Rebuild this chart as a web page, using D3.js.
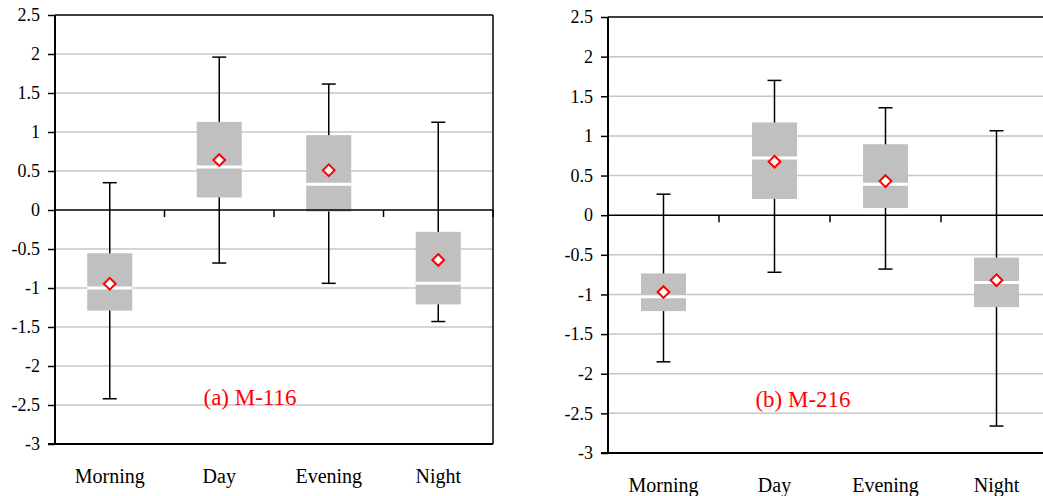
<!DOCTYPE html>
<html lang="en">
<head>
<meta charset="UTF-8">
<script src="https://d3js.org/d3.v7.min.js"></script>
<title>Box plots M-116 / M-216</title>
<style>
  body { margin: 0; background: #fff; }
  svg text { font-family: "Liberation Serif", "Times New Roman", serif; }
</style>
</head>
<body>
<div id="chart"></div>
<script>
// categories and tick values
var categories = ["Morning", "Day", "Evening", "Night"];
var yTicks = [-3, -2.5, -2, -1.5, -1, -0.5, 0, 0.5, 1, 1.5, 2, 2.5];

// (a) M-116
var aLow    = [-2.42, -0.68, -0.94, -1.43];
var aQ1     = [-1.29, 0.16, -0.02, -1.21];
var aMedian = [-1.0, 0.55, 0.33, -0.94];
var aQ3     = [-0.555, 1.13, 0.96, -0.28];
var aHigh   = [0.35, 1.96, 1.615, 1.125];
var aMean   = [-0.945, 0.64, 0.51, -0.64];

// (b) M-216
var bLow    = [-1.85, -0.72, -0.68, -2.66];
var bQ1     = [-1.21, 0.205, 0.09, -1.16];
var bMedian = [-1.03, 0.72, 0.39, -0.85];
var bQ3     = [-0.735, 1.17, 0.895, -0.535];
var bHigh   = [0.265, 1.70, 1.355, 1.065];
var bMean   = [-0.97, 0.675, 0.43, -0.82];

var width = 1043, height = 496;
var serif = "Liberation Serif, Times New Roman, serif";

var svg = d3.select("#chart").append("svg")
    .attr("width", width).attr("height", height)
    .attr("font-family", serif);

function makeRows(low, q1, med, q3, high, mean) {
  return categories.map(function(c, i) {
    return {cat: c, low: low[i], q1: q1[i], med: med[i], q3: q3[i], high: high[i], mean: mean[i]};
  });
}

function drawPanel(cfg) {
  var g = svg.append("g");
  var x = d3.scaleBand().domain(categories).range([cfg.left, cfg.right]).padding(0);
  var y = d3.scaleLinear().domain([-3, 2.5]).range([cfg.bottom, cfg.top]);

  // grid lines
  g.selectAll(".grid").data(yTicks.filter(function(d) { return d !== -3 && d !== 2.5 && d !== 0; }))
    .enter().append("line")
    .attr("x1", cfg.left).attr("x2", cfg.right)
    .attr("y1", function(d) { return y(d); }).attr("y2", function(d) { return y(d); })
    .attr("stroke", "#c6c6c6").attr("stroke-width", 1.5);

  // top and right border
  g.append("line").attr("x1", cfg.left).attr("x2", cfg.right)
    .attr("y1", cfg.top).attr("y2", cfg.top)
    .attr("stroke", "#000").attr("stroke-width", 1.5);
  g.append("line").attr("x1", cfg.right).attr("x2", cfg.right)
    .attr("y1", cfg.top).attr("y2", cfg.bottom)
    .attr("stroke", "#000").attr("stroke-width", 1.5);

  var rows = makeRows.apply(null, cfg.data);
  var cx = function(d) { return x(d.cat) + x.bandwidth() / 2; };
  var boxW = 45, capW = 14;

  // whiskers
  g.selectAll(".whisk").data(rows).enter().append("line")
    .attr("x1", cx).attr("x2", cx)
    .attr("y1", function(d) { return y(d.high); }).attr("y2", function(d) { return y(d.low); })
    .attr("stroke", "#000").attr("stroke-width", 1.5);
  ["high", "low"].forEach(function(k) {
    g.selectAll(".cap-" + k).data(rows).enter().append("line")
      .attr("x1", function(d) { return cx(d) - capW / 2; })
      .attr("x2", function(d) { return cx(d) + capW / 2; })
      .attr("y1", function(d) { return y(d[k]); }).attr("y2", function(d) { return y(d[k]); })
      .attr("stroke", "#000").attr("stroke-width", 1.5);
  });

  // boxes
  g.selectAll(".box").data(rows).enter().append("rect")
    .attr("x", function(d) { return cx(d) - boxW / 2; })
    .attr("width", boxW)
    .attr("y", function(d) { return y(d.q3); })
    .attr("height", function(d) { return y(d.q1) - y(d.q3); })
    .attr("fill", "#c0c0c0");

  // median shown as white gap
  g.selectAll(".med").data(rows).enter().append("line")
    .attr("x1", function(d) { return cx(d) - boxW / 2; })
    .attr("x2", function(d) { return cx(d) + boxW / 2; })
    .attr("y1", function(d) { return y(d.med); }).attr("y2", function(d) { return y(d.med); })
    .attr("stroke", "#fff").attr("stroke-width", 3);

  // zero line with category ticks
  g.append("line").attr("x1", cfg.left).attr("x2", cfg.right)
    .attr("y1", y(0)).attr("y2", y(0))
    .attr("stroke", "#000").attr("stroke-width", 1.5);
  g.selectAll(".ctick").data(categories.slice(1).concat(["end"])).enter().append("line")
    .attr("x1", function(d) { return d === "end" ? cfg.right : x(d); })
    .attr("x2", function(d) { return d === "end" ? cfg.right : x(d); })
    .attr("y1", y(0)).attr("y2", y(0) + 7)
    .attr("stroke", "#000").attr("stroke-width", 1.5);

  // means
  g.selectAll(".mean").data(rows).enter().append("path")
    .attr("d", d3.symbol().type(d3.symbolDiamond2).size(88))
    .attr("transform", function(d) { return "translate(" + cx(d) + "," + y(d.mean) + ")"; })
    .attr("fill", "#fff").attr("stroke", "#ff0000").attr("stroke-width", 2);

  // y axis
  var yAxis = d3.axisLeft(y).tickValues(yTicks).tickSize(7).tickPadding(8)
    .tickFormat(function(d) { return String(d); });
  var ya = g.append("g").attr("transform", "translate(" + cfg.left + ",0)").call(yAxis)
    .attr("font-family", serif).attr("font-size", 18);
  ya.select(".domain").attr("stroke-width", 2).attr("d", "M0," + cfg.top + "V" + cfg.bottom);
  ya.selectAll(".tick line").attr("stroke-width", 1.5);
  ya.selectAll(".tick text").attr("fill", "#000");

  // bottom axis line
  g.append("line").attr("x1", cfg.left - 7).attr("x2", cfg.right)
    .attr("y1", cfg.bottom).attr("y2", cfg.bottom)
    .attr("stroke", "#000").attr("stroke-width", 2);

  // category labels
  g.selectAll(".clabel").data(categories).enter().append("text")
    .attr("x", function(d) { return x(d) + x.bandwidth() / 2; })
    .attr("y", cfg.labelY)
    .attr("text-anchor", "middle").attr("font-size", 20).attr("fill", "#000")
    .text(function(d) { return d; });

  // panel title
  g.append("text").attr("x", cfg.titleX).attr("y", cfg.titleY)
    .attr("text-anchor", "middle").attr("font-size", 23).attr("fill", "#ff0000")
    .text(cfg.title);
}

drawPanel({left: 55, right: 493, top: 15, bottom: 444, labelY: 483,
  titleX: 250, titleY: 405, title: "(a) M-116",
  data: [aLow, aQ1, aMedian, aQ3, aHigh, aMean]});
drawPanel({left: 608, right: 1052, top: 17, bottom: 453, labelY: 492,
  titleX: 803, titleY: 407, title: "(b) M-216",
  data: [bLow, bQ1, bMedian, bQ3, bHigh, bMean]});
</script>
</body>
</html>
